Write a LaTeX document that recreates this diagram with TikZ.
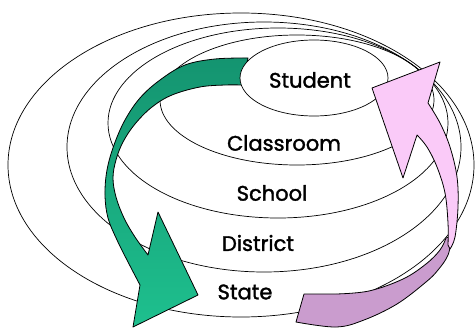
\documentclass[tikz,border=0pt]{standalone}
\usepackage{fontspec}
\newfontfamily\lab{Poppins}[FakeBold=1.6]
\definecolor{grnTop}{RGB}{20,148,112}
\definecolor{grnBot}{RGB}{30,192,142}
\definecolor{pnk}{RGB}{250,202,248}
\definecolor{prp}{RGB}{202,156,206}
\begin{document}
\begin{tikzpicture}[x=1pt,y=-1pt,
  ring/.style={draw=black,line width=0.7pt},
  lbl/.style={font=\lab\fontsize{21}{24}\selectfont, text=black, inner sep=0pt},
  arrowshape/.style={draw=black, line width=0.8pt, line join=round}]
\useasboundingbox (0,0) rectangle (476,329);
\fill[white] (0,0) rectangle (476,329);
% nested rings
\draw[ring] (241,165) ellipse [x radius=233, y radius=152];
\draw[ring] (264,147) ellipse [x radius=197, y radius=125];
\draw[ring] (278,123) ellipse [x radius=170, y radius=95];
\draw[ring] (297,100) ellipse [x radius=137, y radius=65];
% labels
\node[lbl] (classroom) at (284,143) {Classroom};
\node[lbl] (school) at (272,193) {School};
\node[lbl] (district) at (258,243) {District};
\node[lbl] (state) at (245,292) {State};
% green arrow
\path[arrowshape, top color=grnTop, bottom color=grnBot]
  plot[smooth, tension=0.6] coordinates {(248,58) (215,59) (185,65) (160,80) (140,98) (125,120) (114,145) (107,170) (105,195) (108,218) (117,240) (128,262) (140,285)}
  -- (133,327) -- (198,295) -- (158,212)
  -- plot[smooth, tension=0.6] coordinates {(148,255) (135,237) (124,218) (116,197) (113,178) (116,160) (123,142) (135,124) (152,107) (172,95) (200,87) (225,85) (242,85)}
  -- cycle;
% student ring on top
\draw[ring, fill=white] (314,78) ellipse [x radius=74, y radius=38];
\node[lbl] (student) at (310,80) {Student};
% purple lower part of the pink arrow
\path[arrowshape, fill=prp]
  plot[smooth, tension=0.6] coordinates {(452,236) (448,255) (438,270) (426,282) (397,304) (364,320) (336,327) (296,322)}
  -- (304,294)
  -- plot[smooth, tension=0.6] coordinates {(336,294) (369,291) (403,279) (426,264) (440,250) (446,238)}
  -- cycle;
% pink upper part
\path[arrowshape, fill=pnk]
  plot[smooth, tension=0.6] coordinates {(450,249) (455,237) (458,207) (457,177) (450,147) (440,123) (428,103)}
  -- (440,62) -- (372,88) -- (403,178)
  -- plot[smooth, tension=0.6] coordinates {(417,135) (427,147) (437,167) (445,193) (448,223) (448,245)}
  -- cycle;
\end{tikzpicture}
\end{document}
